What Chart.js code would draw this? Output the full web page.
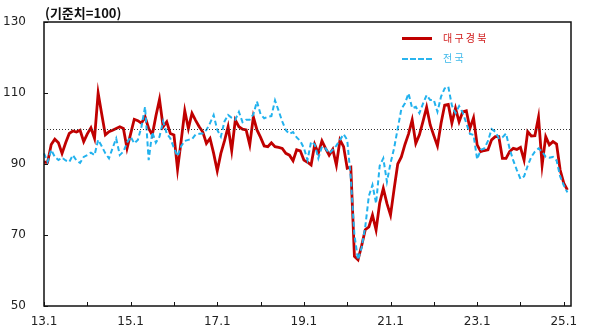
<!DOCTYPE html>
<html>
<head>
<meta charset="utf-8">
<script src="https://cdn.jsdelivr.net/npm/chart.js@4/dist/chart.umd.min.js"></script>
<style>
  body { margin: 0; background: #fff; }
  .wrap { position: relative; width: 589px; height: 327px; }
  .title { position: absolute; left: 45px; top: 3px; font: bold 13px "Noto Sans CJK KR", sans-serif; color: #111; }
  .lg-line { position: absolute; left: 402px; width: 30px; height: 0; }
  .lg-text { position: absolute; left: 443px; font: 10px "Noto Sans CJK KR", sans-serif; letter-spacing: 2.2px; }
</style>
</head>
<body>
<div class="wrap">
  <canvas id="chart" width="589" height="327"></canvas>
  <div class="title">(기준치=100)</div>
  <div class="lg-line" style="top:37px; border-top:3px solid #c00000;"></div>
  <div class="lg-text" style="top:30px; color:#d01818;">대구경북</div>
  <div class="lg-line" style="top:58px; border-top:2px dashed #2ab4ee;"></div>
  <div class="lg-text" style="top:50px; color:#3cb8ea;">전국</div>
</div>
<script>
// monthly categories 13.1 ... 25.3 (axis runs one month past the last value)
const startYear = 13;
const monthCount = 147;
const months = [];
for (let i = 0; i < monthCount; i++) {
  months.push((startYear + Math.floor(i / 12)) + "." + ((i % 12) + 1));
}

// 대구경북 (13.1 ~ 25.2)
const daeguGyeongbuk = [
  90.5, 90.5, 95.5, 97, 96, 93, 96, 98.6, 99.3, 99, 99.5, 96.3,
  98.5, 100.2, 97.2, 110, 104, 98.2, 99.1, 99.5, 100, 100.5, 100, 94.4,
  98.5, 102.6, 102.2, 101.5, 103.3, 100, 98.2, 103.5, 108.2, 100.5, 101.9, 98.6,
  98.2, 88.5, 96.5, 105, 100, 104.3, 102.3, 100.5, 99, 95.8, 97.2, 93,
  88.1, 93, 96.5, 100.5, 93.8, 102.4, 100.5, 99.8, 99.6, 95.4, 103.3, 99.6,
  97.5, 95.1, 94.9, 96, 94.9, 94.7, 94.4, 93, 92.5, 90.9, 94, 93.7,
  91.1, 90.5, 89.7, 95.5, 93, 96.5, 94.4, 92.5, 94.1, 89.7, 96.8, 94.9,
  88.8, 89.1, 64, 63, 67, 71.5, 72.3, 75.6, 71.4, 79, 83.1, 78.9,
  75.6, 83, 90, 92, 95.5, 98.5, 102.4, 95.8, 98.2, 102, 106, 101,
  98, 95.1, 101.5, 106.6, 106.8, 101.5, 105.7, 101.9, 104.7, 105, 100, 103,
  95.4, 93.5, 93.8, 94, 96.8, 97.7, 97.7, 91.6, 91.6, 93.5, 94.4, 94.1,
  94.7, 91.1, 99.1, 97.9, 98, 103.2, 89.7, 97.7, 95.4, 96.3, 95.6, 88.3,
  84.6, 82.7
];

// 전국 (13.1 ~ 25.2)
const national = [
  93, 90.6, 94, 92, 91.1, 91.8, 91, 90.6, 92.5, 91, 90.3, 92,
  92.5, 93.2, 92.5, 96.8, 95, 93, 91.6, 94.5, 97.2, 92.5, 93.5, 96,
  97.7, 95.8, 96.8, 100.5, 106.1, 91.1, 99, 96, 97.7, 102, 98.6, 97.2,
  94.5, 92.2, 95, 96.5, 96.8, 97, 98.3, 98.5, 98.6, 99.6, 101.5, 103.8,
  99.6, 97.7, 102, 103.8, 103, 102.5, 104.7, 101.8, 102.5, 102.5, 104, 107.6,
  104, 102.9, 103.3, 103.5, 107.9, 105, 102, 99.5, 98.5, 99, 97.5, 96.5,
  94.5, 91.1, 96.3, 95.5, 91.6, 94.9, 94.4, 93, 94, 95.2, 96.8, 98.4,
  96.8, 86, 70, 63, 66.5, 72.3, 81, 84.1, 78.9, 89.5, 91.6, 85,
  90.2, 94.5, 100, 105.5, 107.1, 109.9, 105.7, 106.1, 104.3, 107, 109.4, 108,
  108, 104.7, 109, 111.3, 111.8, 106.5, 104.3, 106.3, 104.5, 101.5, 98.5, 98.2,
  91.3, 94, 94.4, 96.5, 99.8, 99.1, 97.3, 97.5, 98.6, 94.3, 91, 88.3,
  85.8, 86.5, 89.5, 92, 93.5, 94.4, 93.5, 92, 91.8, 92, 91, 86.5,
  84, 82
];

const yTicks = [50, 70, 90, 110, 130];
const baseLine = 100;

// frame, dotted 100 line and inward tick marks
const framePlugin = {
  id: "frame",
  afterDatasetsDraw(chart) {
    const { ctx, chartArea, scales } = chart;
    const { left, right, top, bottom } = chartArea;
    ctx.save();

    // dotted reference line
    const yb = Math.round(scales.y.getPixelForValue(baseLine)) + 0.5;
    ctx.strokeStyle = "#333";
    ctx.lineWidth = 1;
    ctx.setLineDash([1, 2]);
    ctx.beginPath();
    ctx.moveTo(left, yb);
    ctx.lineTo(right, yb);
    ctx.stroke();
    ctx.setLineDash([]);

    // frame
    ctx.strokeStyle = "#111";
    ctx.lineWidth = 1.5;
    ctx.strokeRect(left, top, right - left, bottom - top);

    // ticks
    ctx.lineWidth = 1;
    ctx.beginPath();
    yTicks.forEach((v) => {
      const y = Math.round(scales.y.getPixelForValue(v)) + 0.5;
      ctx.moveTo(left, y);
      ctx.lineTo(left + 4, y);
    });
    for (let i = 0; i < months.length; i += 12) {
      const x = Math.round(scales.x.getPixelForValue(i)) + 0.5;
      ctx.moveTo(x, bottom);
      ctx.lineTo(x, bottom - 4);
    }
    ctx.stroke();
    ctx.restore();
  },
};

new Chart(document.getElementById("chart"), {
  type: "line",
  data: {
    labels: months,
    datasets: [
      {
        label: "대구경북",
        data: daeguGyeongbuk,
        borderColor: "#c00000",
        borderWidth: 2.8,
        pointRadius: 0,
        tension: 0,
        order: 1,
      },
      {
        label: "전국",
        data: national,
        borderColor: "#22b2ee",
        borderWidth: 2,
        borderDash: [5, 3],
        pointRadius: 0,
        tension: 0,
        order: 0,
      },
    ],
  },
  options: {
    responsive: false,
    animation: false,
    layout: { padding: { top: 22, right: 18, left: 0, bottom: 0 } },
    plugins: {
      legend: { display: false },
      tooltip: { enabled: false },
    },
    scales: {
      x: {
        offset: false,
        grid: { display: false },
        border: { display: false },
        ticks: {
          autoSkip: false,
          maxRotation: 0,
          minRotation: 0,
          padding: 1,
          color: "#222",
          font: { family: "DejaVu Sans", size: 12 },
          callback: function (value, index) {
            return index % 24 === 0 ? this.getLabelForValue(value) : null;
          },
        },
        afterFit: (scale) => {
          scale.height = 21;
        },
      },
      y: {
        min: 50,
        max: 130,
        grid: { display: false },
        border: { display: false },
        ticks: {
          stepSize: 20,
          padding: 10,
          color: "#222",
          font: { family: "DejaVu Sans", size: 12 },
        },
        afterFit: (scale) => {
          scale.width = 44;
        },
      },
    },
  },
  plugins: [framePlugin],
});
</script>
</body>
</html>
